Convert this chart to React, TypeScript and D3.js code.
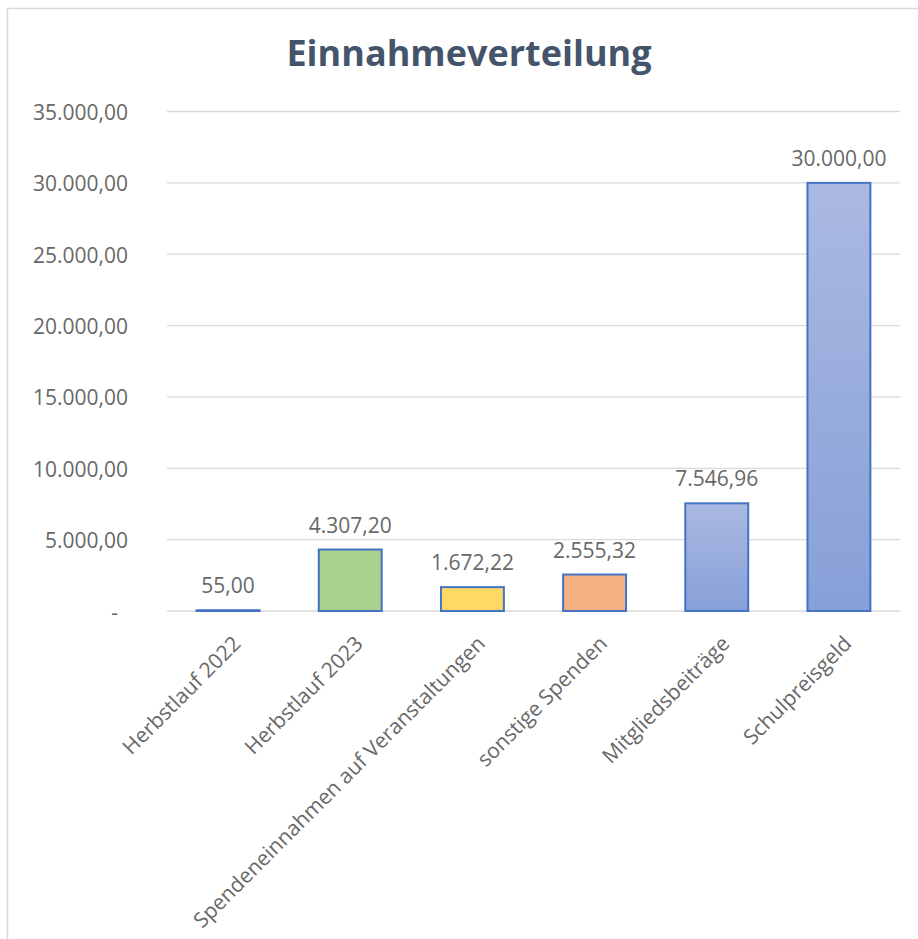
import React, { useRef, useEffect } from "react";
import * as d3 from "d3";

const categories = [
  "Herbstlauf 2022",
  "Herbstlauf 2023",
  "Spendeneinnahmen auf Veranstaltungen",
  "sonstige Spenden",
  "Mitgliedsbeiträge",
  "Schulpreisgeld",
];
const values = [55.0, 4307.2, 1672.22, 2555.32, 7546.96, 30000.0];
const barFills = ["url(#blueGrad)", "#A9D18E", "#FFD966", "#F4B183", "url(#blueGrad)", "url(#blueGrad)"];
const yTicks = [0, 5000, 10000, 15000, 20000, 25000, 30000, 35000];
const title = "Einnahmeverteilung";

const de = d3.formatLocale({ decimal: ",", thousands: ".", grouping: [3], currency: ["", " €"] });
const fmt = de.format(",.2f");

export default function App() {
  const ref = useRef<SVGSVGElement>(null);
  const width = 918;
  const height = 939;

  useEffect(() => {
    const svg = d3.select(ref.current);
    svg.selectAll("*").remove();

    const font = "'Open Sans', sans-serif";
    const grey = "#686868";

    const defs = svg.append("defs");
    const grad = defs.append("linearGradient").attr("id", "blueGrad")
      .attr("x1", 0).attr("y1", 0).attr("x2", 0).attr("y2", 1);
    grad.append("stop").attr("offset", "0%").attr("stop-color", "#AAB9E1");
    grad.append("stop").attr("offset", "100%").attr("stop-color", "#87A0D8");

    // chart frame (left + top edges visible)
    svg.append("path")
      .attr("d", `M7.5,${height} V8.5 H${width}`)
      .attr("fill", "none")
      .attr("stroke", "#D9D9D9")
      .attr("stroke-width", 1.5);

    const x = d3.scaleBand().domain(categories).range([167, 900]).paddingInner(0.485).paddingOuter(0.2425);
    const y = d3.scaleLinear().domain([0, 35000]).range([611, 111.5]);

    svg.append("text")
      .attr("x", 469).attr("y", 66)
      .attr("text-anchor", "middle")
      .attr("font-family", font).attr("font-weight", 700)
      .attr("font-size", 36).attr("fill", "#44546A")
      .text(title);

    // gridlines
    svg.append("g").selectAll("line")
      .data(yTicks)
      .join("line")
      .attr("x1", 167).attr("x2", 900)
      .attr("y1", d => y(d)).attr("y2", d => y(d))
      .attr("stroke", "#D9D9D9").attr("stroke-width", 1.3);

    // y tick labels
    svg.append("g").selectAll("text")
      .data(yTicks)
      .join("text")
      .attr("x", d => (d === 0 ? 118 : 128))
      .attr("y", d => y(d) + 8.5)
      .attr("text-anchor", "end")
      .attr("font-family", font).attr("font-size", 21)
      .attr("fill", grey)
      .text(d => (d === 0 ? "-" : fmt(d)));

    const data = categories.map((c, i) => ({ c, v: values[i], fill: barFills[i] }));

    svg.append("g").selectAll("rect")
      .data(data)
      .join("rect")
      .attr("x", d => x(d.c)!)
      .attr("width", x.bandwidth())
      .attr("y", d => y(d.v))
      .attr("height", d => y(0) - y(d.v))
      .attr("fill", d => d.fill)
      .attr("stroke", "#4472C4")
      .attr("stroke-width", 2);

    // data labels
    svg.append("g").selectAll("text")
      .data(data)
      .join("text")
      .attr("x", d => x(d.c)! + x.bandwidth() / 2)
      .attr("y", d => y(d.v) - 17)
      .attr("text-anchor", "middle")
      .attr("font-family", font).attr("font-size", 21)
      .attr("fill", grey)
      .text(d => fmt(d.v));

    // rotated category labels
    svg.append("g").selectAll("text")
      .data(categories)
      .join("text")
      .attr("transform", d => `translate(${x(d)! + x.bandwidth() / 2 + 14},645) rotate(-45)`)
      .attr("text-anchor", "end")
      .attr("font-family", font).attr("font-size", 21)
      .attr("fill", grey)
      .text(d => d);
  }, []);

  return (
    <svg
      ref={ref}
      width={width}
      height={height}
      style={{ position: "absolute", left: 0, top: 0, background: "#fff" }}
    ></svg>
  );
}
